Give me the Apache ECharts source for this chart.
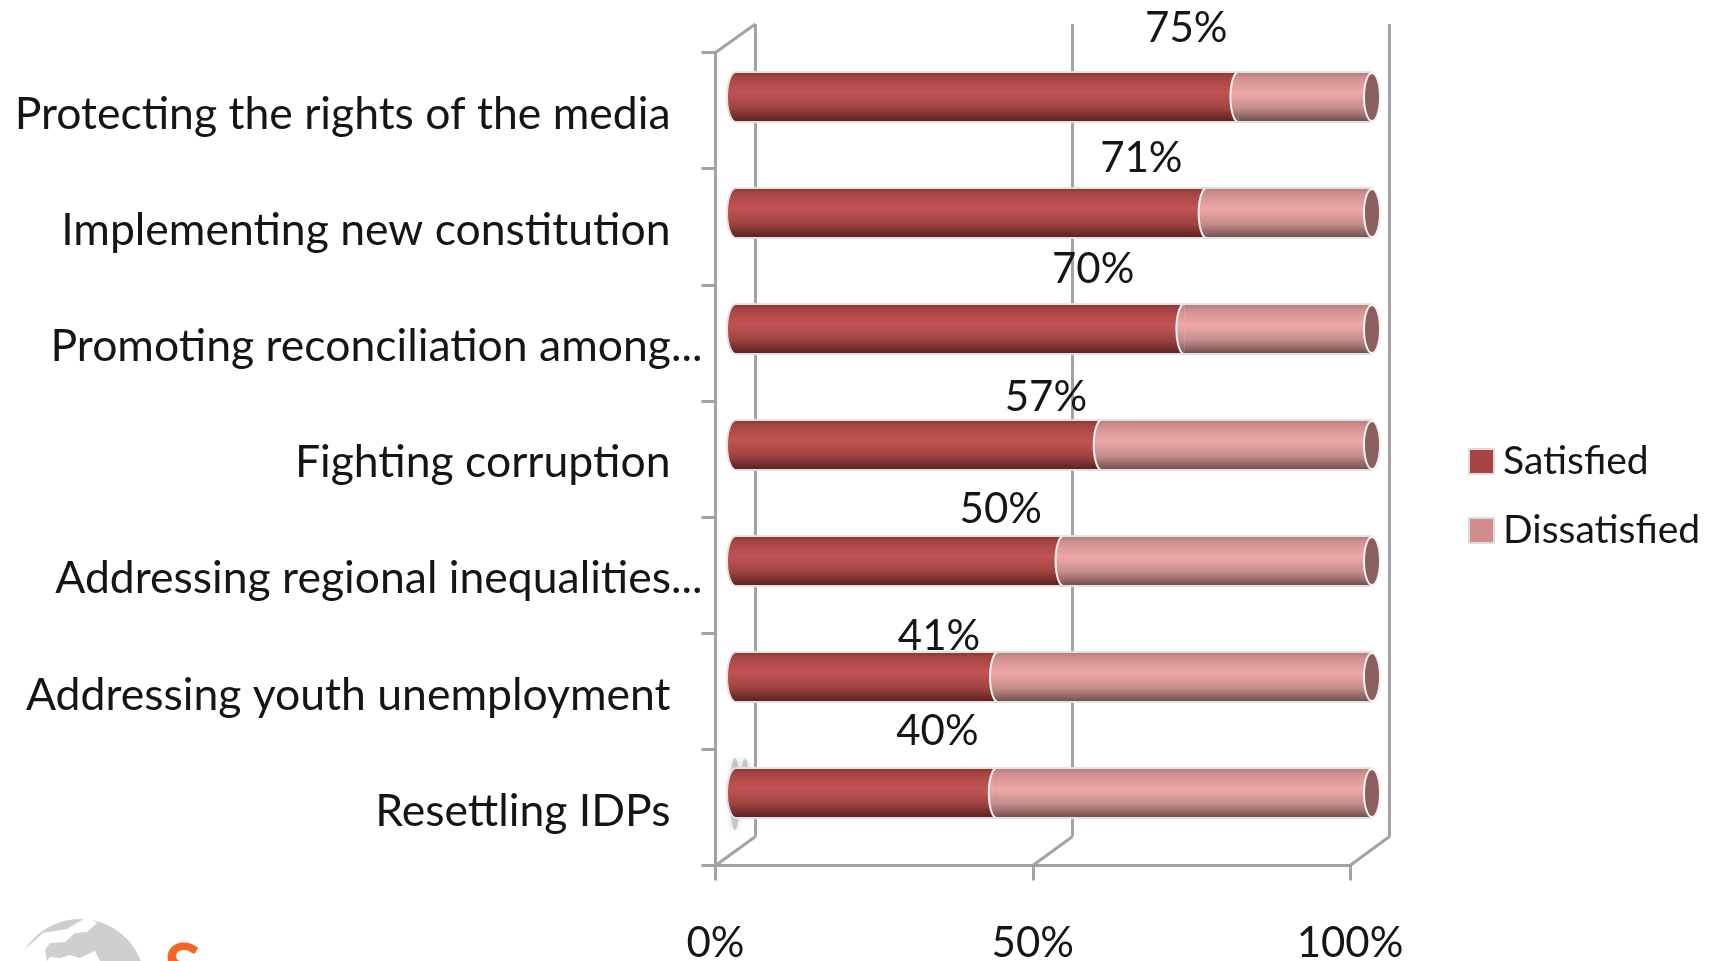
<!DOCTYPE html>
<html><head><meta charset="utf-8">
<style>html,body{margin:0;padding:0;background:#fff;overflow:hidden}#c{width:1710px;height:961px}</style>
<script src="https://cdn.jsdelivr.net/npm/echarts@6/dist/echarts.min.js"></script>
</head><body><div id="c"></div>
<script>
const categories = ['Protecting the rights of the media','Implementing new constitution','Promoting reconciliation among...','Fighting corruption','Addressing regional inequalities...','Addressing youth unemployment','Resettling IDPs'];
const satisfiedDrawn = [79,74,70.5,57.5,51.5,41.2,41];
const dissatisfiedDrawn = [21,26,29.5,42.5,48.5,58.8,59];
const satisfiedLabels = ['75%','71%','70%','57%','50%','41%','40%'];
const valueTicks = ['0%','50%','100%'];
const seriesNames = ['Satisfied','Dissatisfied'];

const labelNudge = [[199,-69],[170,-55],[133,-60],[127,-48],[101,-52],[72,-41],[71,-62]];
const FONT='Lato', AXIS='#a3a3a3', INK='#151515';
const front={left:715.5,top:52.5,width:634.5,height:813,outerBoundsMode:'none'};
const back={left:755.5,top:24,width:634,height:812.5,outerBoundsMode:'none'};
const bars={left:736,top:39,width:636,height:812,outerBoundsMode:'none'};
const BAR_H=50, RX=9;

const darkStops=[[0,'#8a3836'],[0.12,'#a84644'],[0.42,'#c05452'],[0.72,'#a04240'],[1,'#57201f']];
const lightStops=[[0,'#b07a79'],[0.12,'#cf9190'],[0.42,'#eea8a6'],[0.72,'#c58e8d'],[1,'#6f4c4b']];
const grad=s=>new echarts.graphic.LinearGradient(0,0,0,1,s.map(([offset,color])=>({offset,color})));

function halfEllipse(cx,cy,rx,ry){const p=[];for(let a=90;a<=270;a+=10){const r=a*Math.PI/180;p.push([cx+rx*Math.cos(r),cy-ry*Math.sin(r)]);}return p;}

const chart=echarts.init(document.getElementById('c'),null,{renderer:'canvas'});
const hiddenCat={type:'category',data:categories,inverse:true,axisLine:{show:false},axisTick:{show:false},axisLabel:{show:false}};
const line=(x1,y1,x2,y2)=>({type:'line',z:1,shape:{x1,y1,x2,y2},style:{stroke:AXIS,lineWidth:3}});
const smear={fill:'rgba(165,165,165,0.55)',shadowBlur:7,shadowColor:'rgba(165,165,165,0.8)'};

chart.setOption({
  animation:false,backgroundColor:'#fff',
  textStyle:{fontFamily:FONT},
  grid:[back,front,bars],
  xAxis:[
    {gridIndex:0,type:'value',min:0,max:100,interval:50,axisLabel:{show:false},axisLine:{show:false},axisTick:{show:false},splitLine:{show:true,lineStyle:{color:AXIS,width:3}}},
    {gridIndex:1,type:'value',min:0,max:100,interval:50,splitLine:{show:false},
      axisLine:{show:true,onZero:false,lineStyle:{color:AXIS,width:3}},
      axisTick:{show:true,length:15,lineStyle:{color:AXIS,width:3}},
      axisLabel:{show:true,color:INK,fontFamily:FONT,fontSize:42,margin:57,hideOverlap:false,formatter:v=>valueTicks[v/50]}},
    {gridIndex:2,type:'value',min:0,max:100,show:false}
  ],
  yAxis:[
    Object.assign({gridIndex:0},hiddenCat),
    {gridIndex:1,type:'category',data:categories,inverse:true,
      axisLine:{show:true,lineStyle:{color:AXIS,width:3}},
      axisTick:{show:true,length:14,lineStyle:{color:AXIS,width:3}},
      axisLabel:{show:true,interval:0,margin:13,color:INK,fontFamily:FONT,fontSize:44.5,
        formatter:v=>(v.endsWith('...')?'{e|':'{n|')+v+'}',
        rich:{e:{fontFamily:FONT,fontSize:44.5,color:INK,padding:[8,0,0,0]},n:{fontFamily:FONT,fontSize:44.5,color:INK,padding:[8,32,0,0]}}}},
    Object.assign({gridIndex:2},hiddenCat)
  ],
  legend:{orient:'vertical',left:1463,top:437,itemWidth:25,itemHeight:25,itemGap:30,icon:'rect',
    textStyle:{fontFamily:FONT,fontSize:39,color:INK,padding:[0,0,0,4]},
    data:[{name:seriesNames[0],itemStyle:{color:'#a94443',borderColor:'#dcdcdc',borderWidth:2}},
          {name:seriesNames[1],itemStyle:{color:'#d18e8d',borderColor:'#dcdcdc',borderWidth:2}}]},
  series:[
    {name:seriesNames[0],type:'bar',xAxisIndex:2,yAxisIndex:2,stack:'t',barWidth:BAR_H,z:3,
      itemStyle:{color:grad(darkStops)},
      data:satisfiedDrawn.map((v,i)=>({value:v,label:{show:true,position:'inside',offset:labelNudge[i],formatter:satisfiedLabels[i],fontFamily:FONT,fontSize:42,color:INK}}))},
    {name:seriesNames[1],type:'bar',xAxisIndex:2,yAxisIndex:2,stack:'t',barWidth:BAR_H,z:3,
      itemStyle:{color:grad(lightStops)},data:dissatisfiedDrawn},
    {type:'custom',xAxisIndex:2,yAxisIndex:2,z:4,silent:true,
      data:satisfiedDrawn.map((v,i)=>[v,i]),
      encode:{x:0,y:1},
      renderItem(params,api){
        const v=api.value(0), idx=api.value(1);
        const [x0,cy]=api.coord([0,idx]);
        const [xs]=api.coord([v,idx]);
        const [x1]=api.coord([100,idx]);
        const ry=BAR_H/2;
        const edge='#e2e2e2';
        const leftP=halfEllipse(x0,cy,RX,ry), splitP=halfEllipse(xs,cy,RX-1,ry);
        return {type:'group',children:[
          {type:'polygon',shape:{points:leftP},style:{fill:grad(darkStops)}},
          {type:'polyline',shape:{points:leftP},style:{fill:'none',stroke:edge,lineWidth:2}},
          {type:'polygon',shape:{points:splitP},style:{fill:grad(lightStops)}},
          {type:'polyline',shape:{points:splitP},style:{fill:'none',stroke:'#f4eeee',lineWidth:2}},
          {type:'line',shape:{x1:x0,y1:cy-ry,x2:x1,y2:cy-ry},style:{stroke:edge,lineWidth:2}},
          {type:'line',shape:{x1:x0,y1:cy+ry,x2:x1,y2:cy+ry},style:{stroke:edge,lineWidth:2}},
          {type:'ellipse',shape:{cx:x1,cy:cy,rx:RX-1,ry:ry-1},style:{fill:'#8b5f60',stroke:'#f4f0f0',lineWidth:2}}
        ]};
      }}
  ],
  graphic:[
    line(front.left,front.top,back.left,back.top),
    line(front.left,front.top+front.height,back.left,back.top+back.height),
    line(front.left+front.width/2,front.top+front.height,back.left+back.width/2,back.top+back.height),
    line(front.left+front.width,front.top+front.height,back.left+back.width,back.top+back.height),
    {type:'ellipse',z:2,shape:{cx:735,cy:794,rx:5,ry:36},style:smear},
    {type:'ellipse',z:2,shape:{cx:745,cy:768,rx:3,ry:9},style:smear},
    {type:'circle',z:1,shape:{cx:80,cy:984,r:65},style:{fill:'#cfcfcf'}},
    {type:'polygon',z:1,shape:{points:[[10,958],[24,950],[43,933],[67,929],[82,920],[88,917],[97,923],[87,932],[75,933],[65,942],[50,943],[45,950],[47,961],[10,961]]},style:{fill:'#fff'}},
    {type:'polygon',z:1,shape:{points:[[47,961],[50,957],[60,958],[70,955],[80,958],[95,951],[100,961]]},style:{fill:'#fff'}},
    {type:'text',z:1,left:164,top:937,style:{text:'S',fill:'#f4652a',font:'bold 68px '+FONT}}
  ]
});
</script></body></html>
